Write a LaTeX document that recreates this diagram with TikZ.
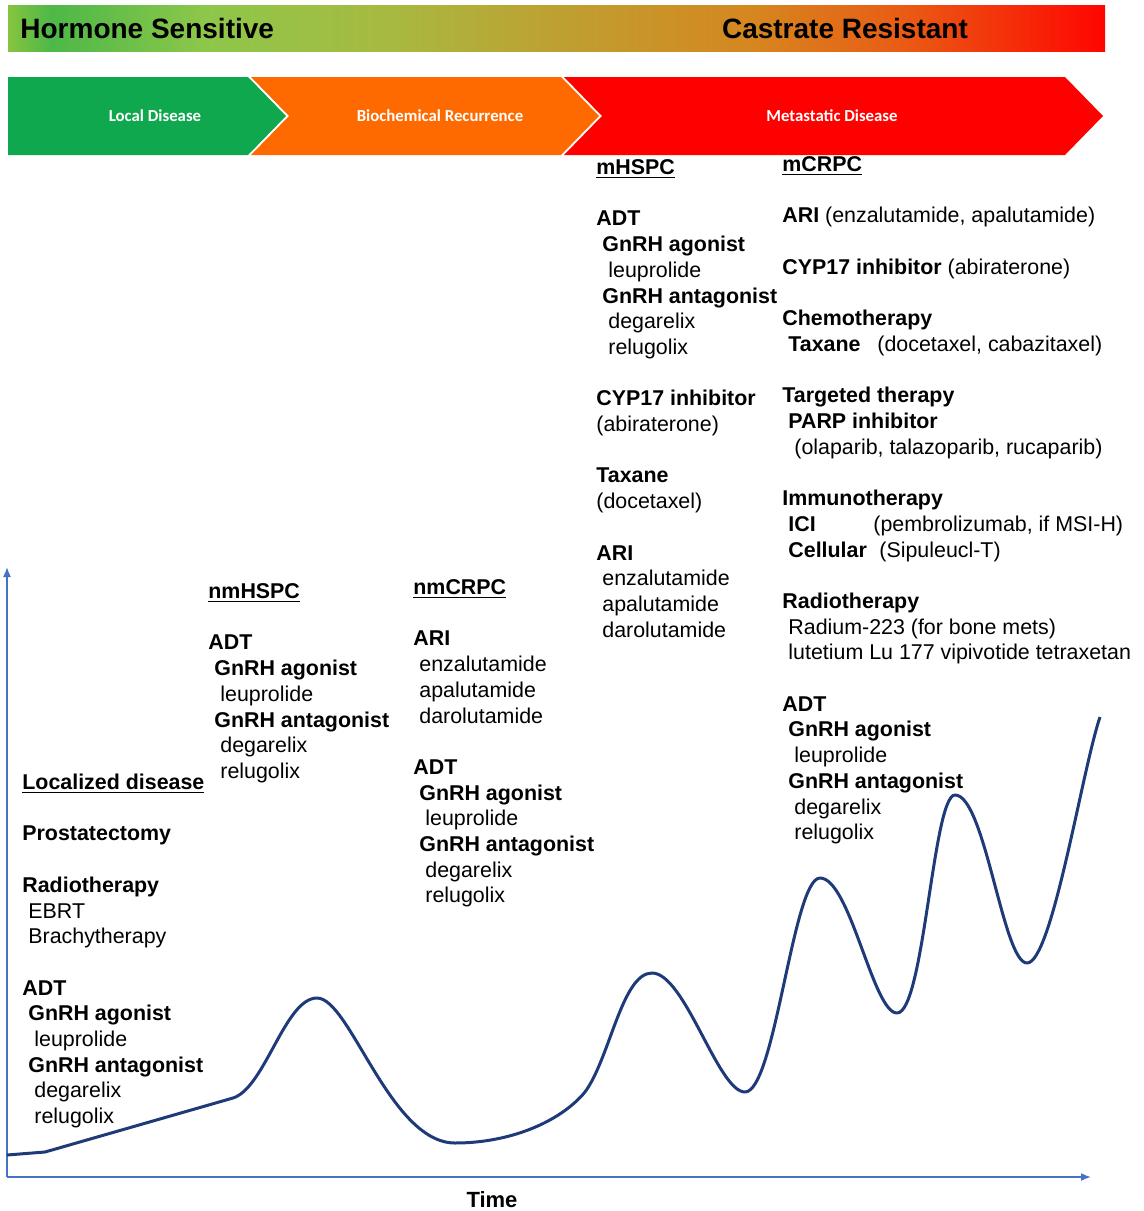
\documentclass[tikz,border=0pt]{standalone}
\usepackage{fontspec}
\setmainfont{Liberation Sans}
\newfontfamily\chevfont{Carlito}
\usetikzlibrary{arrows.meta}

\definecolor{gA}{HTML}{86C440}
\definecolor{gB}{HTML}{4DB848}
\definecolor{gC}{HTML}{8DC74A}
\definecolor{gD}{HTML}{A8B940}
\definecolor{gE}{HTML}{BEA032}
\definecolor{gF}{HTML}{D6861F}
\definecolor{gG}{HTML}{EA5A14}
\definecolor{gH}{HTML}{FF0500}
\pgfdeclarehorizontalshading{bannershade}{100bp}{color(0bp)=(gA); color(25bp)=(gA);
  color(27bp)=(gB); color(34bp)=(gC); color(42.5bp)=(gD); color(50bp)=(gE);
  color(59bp)=(gF); color(66bp)=(gG); color(75bp)=(gH); color(100bp)=(gH)}

\newcommand{\hd}[1]{\underline{\textbf{#1}}}
\newcommand{\padb}[2]{\makebox[#1][l]{\textbf{#2}}}

\tikzset{
  txt/.style={anchor=base west,inner sep=0pt,font=\fontsize{10.7}{12.9}\selectfont},
  chev/.style={draw=white,line width=1.2pt},
  chevtxt/.style={text=white,inner sep=0pt,font=\chevfont\bfseries\fontsize{8.4}{10}\selectfont},
  axis/.style={draw=axisblue,line width=0.8pt,-{Latex[length=5pt,width=4pt]}}
}

\begin{document}
\begin{tikzpicture}[x=0.5pt,y=-0.5pt]
  \definecolor{axisblue}{HTML}{4472C4}
  \definecolor{curveblue}{HTML}{1F3A78}
  \colorlet{c0}{green!60!black}
  \definecolor{c0}{HTML}{10A84E}
  \definecolor{c1}{HTML}{FF6A00}
  \definecolor{c2}{HTML}{FF0000}
  \def\dy{25.7}
  \def\dx{6}
  \useasboundingbox[fill=white] (0,0) rectangle (1144,1211);

  % banner
  \shade[shading=bannershade] (8,5) rectangle (1105,51);
  \node[anchor=west,inner sep=0pt,font=\bfseries\fontsize{14}{16}\selectfont] (hs) at (20,28) {Hormone Sensitive};
  \node[inner sep=0pt,font=\bfseries\fontsize{14}{16}\selectfont] (cr) at (845,28) {Castrate Resistant};

  % the three stages
  \fill[c0] (8,77) -- (248,77) -- (286,116) -- (248,155) -- (8,155) -- cycle;
  \fill[c1] (251,77) -- (561,77) -- (599,116) -- (561,155) -- (251,155) -- (289,116) -- cycle;
  \fill[c2] (564,77) -- (1065,77) -- (1103,116) -- (1065,155) -- (564,155) -- (602,116) -- cycle;
  \node[chevtxt] (local) at (155,116) {Local Disease};
  \node[chevtxt] (bcr) at (440,116) {Biochemical Recurrence};
  \node[chevtxt] (meta) at (832,116) {Metastatic Disease};

  % axes and the PSA curve
  \coordinate (org) at (7,1177);
  \coordinate (ytip) at (7,567);
  \coordinate (xtip) at (1091,1177);
  \draw[axis] (org) -- (ytip);
  \draw[axis] (org) -- (xtip);
  \node[inner sep=0pt,font=\bfseries\fontsize{11}{13}\selectfont] (time) at (492,1200) {Time};

  \draw[curveblue,line width=1.5pt,line join=round]
    (7,1155) -- (45,1152) -- (233,1098)
    .. controls (265,1088) and (285,998) .. (317,998)
    .. controls (350,998) and (390,1143) .. (455,1143)
    .. controls (510,1143) and (560,1122) .. (585,1092)
    .. controls (610,1058) and (622,973) .. (652,973)
    .. controls (685,973) and (718,1092) .. (745,1092)
    .. controls (775,1092) and (793,878) .. (820,878)
    .. controls (850,878) and (873,1013) .. (897,1013)
    .. controls (924,1013) and (933,795) .. (955,795)
    .. controls (985,795) and (1003,963) .. (1027,963)
    .. controls (1052,963) and (1082,770) .. (1100,717);

  % localized disease
  \foreach \k/\i/\t in {0/0/{\hd{Localized disease}},2/0/{\textbf{Prostatectomy}},
      4/0/{\textbf{Radiotherapy}},5/1/EBRT,6/1/Brachytherapy,8/0/{\textbf{ADT}},
      9/1/{\textbf{GnRH agonist}},10/2/leuprolide,11/1/{\textbf{GnRH antagonist}},
      12/2/degarelix,13/2/relugolix}
    \node[txt] (loc\k) at ({22+\dx*\i},{789.5+\dy*\k}) {\t};

  % nmHSPC
  \foreach \k/\i/\t in {0/0/{\hd{nmHSPC}},2/0/{\textbf{ADT}},3/1/{\textbf{GnRH agonist}},
      4/2/leuprolide,5/1/{\textbf{GnRH antagonist}},6/2/degarelix,7/2/relugolix}
    \node[txt] (nmh\k) at ({208+\dx*\i},{598.5+\dy*\k}) {\t};

  % nmCRPC
  \foreach \k/\i/\t in {0/0/{\hd{nmCRPC}},2/0/{\textbf{ARI}},3/1/enzalutamide,
      4/1/apalutamide,5/1/darolutamide,7/0/{\textbf{ADT}},8/1/{\textbf{GnRH agonist}},
      9/2/leuprolide,10/1/{\textbf{GnRH antagonist}},11/2/degarelix,12/2/relugolix}
    \node[txt] (nmc\k) at ({413+\dx*\i},{594.5+\dy*\k}) {\t};

  % mHSPC
  \foreach \k/\i/\t in {0/0/{\hd{mHSPC}},2/0/{\textbf{ADT}},3/1/{\textbf{GnRH agonist}},
      4/2/leuprolide,5/1/{\textbf{GnRH antagonist}},6/2/degarelix,7/2/relugolix,
      9/0/{\textbf{CYP17 inhibitor}},10/0/(abiraterone),12/0/{\textbf{Taxane}},
      13/0/(docetaxel),15/0/{\textbf{ARI}},16/1/enzalutamide,17/1/apalutamide,
      18/1/darolutamide}
    \node[txt] (mh\k) at ({596+\dx*\i},{174.5+\dy*\k}) {\t};

  % mCRPC
  \foreach \k/\i/\t in {0/0/{\hd{mCRPC}},2/0/{\textbf{ARI} (enzalutamide, apalutamide)},
      4/0/{\textbf{CYP17 inhibitor} (abiraterone)},6/0/{\textbf{Chemotherapy}},
      7/1/{\padb{44.5pt}{Taxane}(docetaxel, cabazitaxel)},9/0/{\textbf{Targeted therapy}},
      10/1/{\textbf{PARP inhibitor}},11/2/{(olaparib, talazoparib, rucaparib)},
      13/0/{\textbf{Immunotherapy}},14/1/{\padb{42.5pt}{ICI}(pembrolizumab, if MSI-H)},
      15/1/{\padb{45.5pt}{Cellular}(Sipuleucl-T)},17/0/{\textbf{Radiotherapy}},
      18/1/{Radium-223 (for bone mets)},19/1/{lutetium Lu 177 vipivotide tetraxetan},
      21/0/{\textbf{ADT}},22/1/{\textbf{GnRH agonist}},23/2/leuprolide,
      24/1/{\textbf{GnRH antagonist}},25/2/degarelix,26/2/relugolix}
    \node[txt] (mc\k) at ({782+\dx*\i},{171.5+\dy*\k}) {\t};
\end{tikzpicture}
\end{document}
